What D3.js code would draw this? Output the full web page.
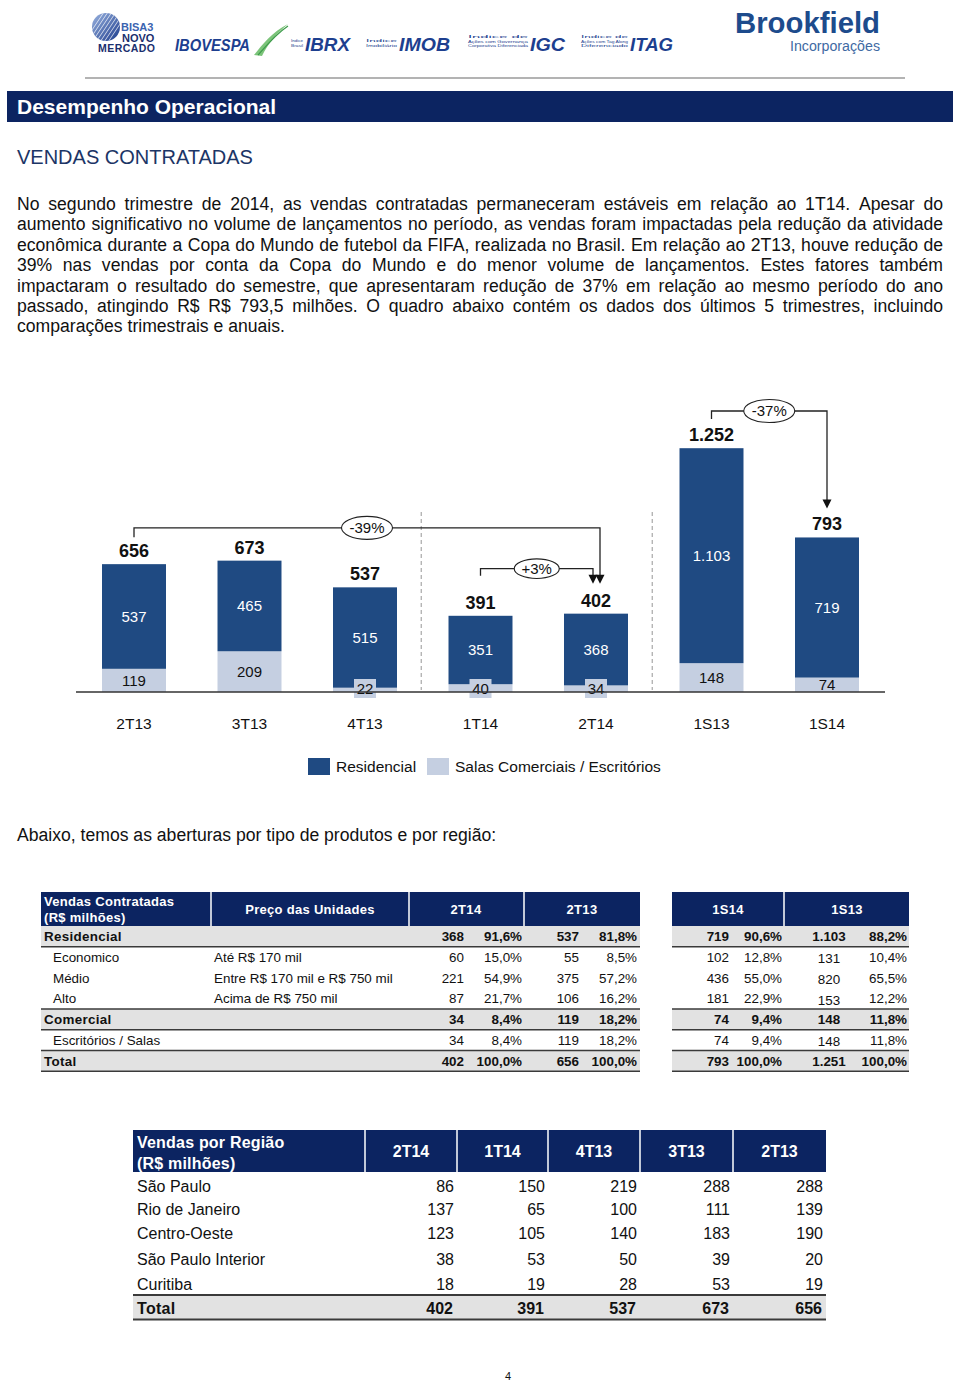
<!DOCTYPE html>
<html><head><meta charset="utf-8">
<script src="https://cdn.jsdelivr.net/npm/d3@7"></script>
<style>
body{margin:0;background:#fff;}
svg{display:block;font-family:"Liberation Sans",Arial,Helvetica,sans-serif;}
</style>
</head><body>
<svg id="page" width="960" height="1381"></svg>
<script>
// ---------------- DATA ----------------
const categories = ["2T13","3T13","4T13","1T14","2T14","1S13","1S14"];
const residencial = [537,465,515,351,368,1103,719];
const comercial   = [119,209,22,40,34,148,74];
const totals      = [656,673,537,391,402,1252,793];
const seriesNames = ["Residencial","Salas Comerciais / Escritórios"];
const annotations = [
  {from:"2T13", to:"2T14", label:"-39%"},
  {from:"1T14", to:"2T14", label:"+3%"},
  {from:"1S13", to:"1S14", label:"-37%"}
];

const paragraphLines = [
  "No segundo trimestre de 2014, as vendas contratadas permaneceram estáveis em relação ao 1T14. Apesar do",
  "aumento significativo no volume de lançamentos no período, as vendas foram impactadas pela redução da atividade",
  "econômica durante a Copa do Mundo de futebol da FIFA, realizada no Brasil. Em relação ao 2T13, houve redução de",
  "39% nas vendas por conta da Copa do Mundo e do menor volume de lançamentos. Estes fatores também",
  "impactaram o resultado do semestre, que apresentaram redução de 37% em relação ao mesmo período do ano",
  "passado, atingindo R$ R$ 793,5 milhões. O quadro abaixo contém os dados dos últimos 5 trimestres, incluindo",
  "comparações trimestrais e anuais."
];

// Table 1
const t1Header = ["Preço das Unidades","2T14","2T13","1S14","1S13"];
const t1Rows   = ["Residencial","Economico","Médio","Alto","Comercial","Escritórios / Salas","Total"];
const t1Level  = [0,1,1,1,0,1,0];
const t1Price  = ["","Até R$ 170 mil","Entre R$ 170 mil e R$ 750 mil","Acima de R$ 750 mil","","",""];
const v2T14 = [368,60,221,87,34,34,402];
const p2T14 = [91.6,15.0,54.9,21.7,8.4,8.4,100.0];
const v2T13 = [537,55,375,106,119,119,656];
const p2T13 = [81.8,8.5,57.2,16.2,18.2,18.2,100.0];
const v1S14 = [719,102,436,181,74,74,793];
const p1S14 = [90.6,12.8,55.0,22.9,9.4,9.4,100.0];
const v1S13 = [1103,131,820,153,148,148,1251];
const p1S13 = [88.2,10.4,65.5,12.2,11.8,11.8,100.0];

// Table 2
const regions  = ["São Paulo","Rio de Janeiro","Centro-Oeste","São Paulo Interior","Curitiba"];
const periods  = ["2T14","1T14","4T13","3T13","2T13"];
const reg2T14 = [86,137,123,38,18];
const reg1T14 = [150,65,105,53,19];
const reg4T13 = [219,100,140,50,28];
const reg3T13 = [288,111,183,39,53];
const reg2T13 = [288,139,190,20,19];
const regTotals = [402,391,537,673,656];

// ---------------- HELPERS ----------------
const loc = d3.formatLocale({decimal:",", thousands:".", grouping:[3], currency:["R$ ",""]});
const fInt = loc.format(",d");
const fPct = v => loc.format(",.1f")(v) + "%";

const NAVY = "#0c2461";
const DARK = "#1f4a82";
const LIGHT = "#c5cfe1";
const svg = d3.select("#page");

// ---------------- HEADER / LOGOS ----------------
const hdr = svg.append("g");
const defs = svg.append("defs");
const lg = defs.append("linearGradient").attr("id","globe").attr("x1","0").attr("y1","0").attr("x2","1").attr("y2","1");
lg.append("stop").attr("offset","0").attr("stop-color","#9bb4e0");
lg.append("stop").attr("offset","1").attr("stop-color","#1d3c8c");
defs.append("clipPath").attr("id","gclip").append("circle").attr("cx",106).attr("cy",27).attr("r",14);
hdr.append("circle").attr("cx",106).attr("cy",27).attr("r",14).attr("fill","url(#globe)");
for (let k=-3;k<=3;k++){
  hdr.append("line").attr("x1",96+k*4).attr("y1",42).attr("x2",116+k*4).attr("y2",12)
    .attr("stroke","#fff").attr("stroke-width",0.9).attr("opacity",0.8)
    .attr("clip-path","url(#gclip)");
}
hdr.append("text").attr("x",121).attr("y",31).attr("font-size",11).attr("font-weight","bold").attr("fill","#3a63b0").text("BISA3");
hdr.append("text").attr("x",122).attr("y",42).attr("font-size",11).attr("font-weight","bold").attr("fill","#1a2f6e").text("NOVO");
hdr.append("text").attr("x",98).attr("y",52).attr("font-size",10.5).attr("font-weight","bold").attr("fill","#1a2f6e").attr("textLength",57).text("MERCADO");

const logoBlue = "#1d3f8f";
hdr.append("text").attr("x",175).attr("y",51).attr("font-size",17).attr("font-weight","bold").attr("font-style","italic")
  .attr("fill",logoBlue).attr("textLength",75).attr("lengthAdjust","spacingAndGlyphs").text("IBOVESPA");
hdr.append("path").attr("d","M254,55 C262,45 272,32 288,24 C276,34 268,44 262,56 Z").attr("fill","#7cc47a");
hdr.append("path").attr("d","M258,55 C266,46 276,34 288,26").attr("stroke","#3d9b4a").attr("fill","none").attr("stroke-width",1.2);

function smallIdx(x, y, lines, w){
  lines.forEach((t,i)=>hdr.append("text").attr("x",x).attr("y",y+i*4.5).attr("font-size",4.2).attr("fill",logoBlue)
    .attr("textLength",w).attr("lengthAdjust","spacingAndGlyphs").text(t));
}
function bigIdx(x, t, w){
  hdr.append("text").attr("x",x).attr("y",51).attr("font-size",18).attr("font-weight","bold").attr("font-style","italic")
    .attr("fill",logoBlue).attr("textLength",w).attr("lengthAdjust","spacingAndGlyphs").text(t);
}
smallIdx(291,42,["Índice","Brasil"],12); bigIdx(305,"IBRX",45);
smallIdx(366,42,["Índice","Imobiliário"],31); bigIdx(399,"IMOB",51);
smallIdx(468,38,["Índice de","Ações com Governança","Corporativa Diferenciada"],60); bigIdx(530,"IGC",35);
smallIdx(581,38,["Índice de","Ações com Tag Along","Diferenciado"],47); bigIdx(630,"ITAG",43);

hdr.append("text").attr("x",735).attr("y",33).attr("font-size",29).attr("font-weight","bold").attr("fill","#1d4b8c")
  .attr("textLength",145).attr("lengthAdjust","spacingAndGlyphs").text("Brookfield");
hdr.append("text").attr("x",790).attr("y",51).attr("font-size",14).attr("fill","#3f6aa3")
  .attr("textLength",90).attr("lengthAdjust","spacingAndGlyphs").text("Incorporações");
hdr.append("line").attr("x1",85).attr("x2",905).attr("y1",78).attr("y2",78).attr("stroke","#9a9a9a").attr("stroke-width",1.5);

// title bar
svg.append("rect").attr("x",7).attr("y",91).attr("width",946).attr("height",31).attr("fill",NAVY);
svg.append("text").attr("x",17).attr("y",114).attr("font-size",21).attr("font-weight","bold").attr("fill","#fff").text("Desempenho Operacional");
svg.append("text").attr("x",17).attr("y",164).attr("font-size",20).attr("fill","#1c3566").text("VENDAS CONTRATADAS");

// ---------------- PARAGRAPH (justified) ----------------
const PFS = 17.6;
const para = svg.append("g").attr("font-size",PFS).attr("fill","#111");
const pX0 = 17, pX1 = 943, pY0 = 210, pLH = 20.4;
paragraphLines.forEach((line,li)=>{
  const words = line.split(" ");
  const t = para.append("text").attr("y", pY0 + li*pLH);
  const spans = words.map(w=>t.append("tspan").text(w));
  const widths = spans.map(s=>s.node().getComputedTextLength());
  const last = li === paragraphLines.length-1;
  const gap = last ? PFS*0.278 : (pX1-pX0-d3.sum(widths))/(words.length-1);
  let cx = pX0;
  spans.forEach((s,i)=>{ s.attr("x",cx); cx += widths[i]+gap; });
});

// ---------------- CHART ----------------
const x = d3.scaleBand().domain(categories).range([76.25,884.75]).paddingInner(0.446).paddingOuter(0.223);
const y = d3.scaleLinear().domain([0,1252]).range([692,448]);
const bw = x.bandwidth();
const xc = c => x(c) + bw/2;
const stackData = categories.map((c,i)=>({cat:c, Comercial:comercial[i], Residencial:residencial[i]}));
const stacked = d3.stack().keys(["Comercial","Residencial"])(stackData);
const colors = {Residencial:DARK, Comercial:LIGHT};
const chart = svg.append("g");

// dashed separators
[["4T13","1T14"],["2T14","1S13"]].forEach(([a,b])=>{
  const sx = (x(a)+bw + x(b))/2 - 1.5;
  chart.append("line").attr("x1",sx).attr("x2",sx).attr("y1",512).attr("y2",690)
    .attr("stroke","#a8a8a8").attr("stroke-width",1.2).attr("stroke-dasharray","4,3");
});

stacked.forEach(layer=>{
  chart.append("g").selectAll("rect").data(layer).join("rect")
    .attr("x",d=>x(d.data.cat)).attr("width",bw)
    .attr("y",d=>y(d[1])).attr("height",d=>y(d[0])-y(d[1]))
    .attr("fill",colors[layer.key]);
});

// residential labels
chart.append("g").selectAll("text").data(stacked[1]).join("text")
  .attr("x",d=>xc(d.data.cat)).attr("y",d=>(y(d[0])+y(d[1]))/2).attr("dy","0.36em")
  .attr("text-anchor","middle").attr("font-size",15).attr("fill","#fff")
  .text(d=>fInt(d.data.Residencial));

// commercial labels
const comG = chart.append("g");
stacked[0].forEach(d=>{
  const h = y(d[0]) - y(d[1]);
  const cx = xc(d.data.cat);
  if (h < 12) {
    const cy = y(0) - 3;
    comG.append("rect").attr("x",cx-11).attr("y",cy-10).attr("width",22).attr("height",19).attr("fill",LIGHT);
    comG.append("text").attr("x",cx).attr("y",cy).attr("dy","0.36em").attr("text-anchor","middle")
      .attr("font-size",15).attr("fill","#111").text(fInt(d.data.Comercial));
  } else {
    comG.append("text").attr("x",cx).attr("y",(y(d[0])+y(d[1]))/2).attr("dy","0.36em").attr("text-anchor","middle")
      .attr("font-size",15).attr("fill","#111").text(fInt(d.data.Comercial));
  }
});

// baseline
chart.append("line").attr("x1",76).attr("x2",885).attr("y1",y(0)).attr("y2",y(0)).attr("stroke","#333").attr("stroke-width",1.3);

// totals
chart.append("g").selectAll("text").data(categories).join("text")
  .attr("x",c=>xc(c)).attr("y",(c,i)=>y(totals[i])-7)
  .attr("text-anchor","middle").attr("font-size",18).attr("font-weight","bold").attr("fill","#111")
  .text((c,i)=>fInt(totals[i]));

// category axis labels
chart.append("g").selectAll("text").data(categories).join("text")
  .attr("x",c=>xc(c)).attr("y",729).attr("text-anchor","middle").attr("font-size",15.5).attr("fill","#111")
  .text(c=>c);

// annotations (layout offsets in px relative to scale)
const annLayout = [
  {lineOff:33, lineRef:"max", startOff:27, tipOff:30, dx:4},
  {lineOff:45, lineRef:"to",  startOff:40, tipOff:30, dx:-3},
  {lineOff:37, lineRef:"max", startOff:29, tipOff:29, dx:0}
];
const tot = c => totals[categories.indexOf(c)];
annotations.forEach((a,i)=>{
  const L = annLayout[i];
  const i0 = categories.indexOf(a.from), i1 = categories.indexOf(a.to);
  const maxV = L.lineRef === "max" ? d3.max(totals.slice(i0,i1+1)) : tot(a.to);
  const ly = y(maxV) - L.lineOff;
  const sx = xc(a.from), sy = y(tot(a.from)) - L.startOff;
  const ex = xc(a.to) + L.dx, tipY = y(tot(a.to)) - L.tipOff;
  chart.append("path").attr("d",`M${sx},${sy}V${ly}H${ex}V${tipY-8}`)
    .attr("fill","none").attr("stroke","#222").attr("stroke-width",1.3);
  chart.append("path").attr("d",`M${ex-4.5},${tipY-9}L${ex+4.5},${tipY-9}L${ex},${tipY}Z`).attr("fill","#111");
  const mx = (sx+ex)/2;
  const rx = a.label.length > 3 ? 25.5 : 22.5, ry = a.label.length > 3 ? 11.5 : 9.8;
  chart.append("ellipse").attr("cx",mx).attr("cy",ly).attr("rx",rx).attr("ry",ry)
    .attr("fill","#fff").attr("stroke","#222").attr("stroke-width",1.1);
  chart.append("text").attr("x",mx).attr("y",ly).attr("dy","0.36em").attr("text-anchor","middle")
    .attr("font-size",15).attr("fill","#111").text(a.label);
});

// legend
const leg = svg.append("g");
[[DARK,308,seriesNames[0],336],[LIGHT,427,seriesNames[1],455]].forEach(([col,rx,lab,tx])=>{
  leg.append("rect").attr("x",rx).attr("y",758).attr("width",22).attr("height",17).attr("fill",col);
  leg.append("text").attr("x",tx).attr("y",772).attr("font-size",15.5).attr("fill","#111").text(lab);
});

svg.append("text").attr("x",17).attr("y",841).attr("font-size",PFS).attr("fill","#111")
  .text("Abaixo, temos as aberturas por tipo de produtos e por região:");

// ---------------- TABLE 1 ----------------
const t1 = svg.append("g").attr("font-size",13.4).attr("fill","#111");
const blocks = [[41,640],[672,909]];
const hTop = 892, hBot = 926, rH = 20.75;
blocks.forEach(([a,b])=>t1.append("rect").attr("x",a).attr("y",hTop).attr("width",b-a).attr("height",hBot-hTop).attr("fill",NAVY));
[211,409,524,784].forEach(sx=>t1.append("line").attr("x1",sx).attr("x2",sx).attr("y1",hTop).attr("y2",hBot).attr("stroke","#fff").attr("stroke-width",1.5));
const hs = {fill:"#fff","font-weight":"bold","font-size":13,"letter-spacing":0.3};
function applyS(sel,s){Object.entries(s).forEach(([k,v])=>sel.attr(k,v));return sel;}
applyS(t1.append("text").attr("x",44).attr("y",906).text("Vendas Contratadas"),hs);
applyS(t1.append("text").attr("x",44).attr("y",922).text("(R$ milhões)"),hs);
const hCenters = [310,466,582,728,847];
t1Header.forEach((h,i)=>applyS(t1.append("text").attr("x",hCenters[i]).attr("y",914).attr("text-anchor","middle").text(h),hs));

t1Rows.forEach((r,i)=>{
  const top = hBot + i*rH, bot = top + rH;
  const lvl0 = t1Level[i] === 0;
  if (lvl0) {
    blocks.forEach(([a,b])=>{
      t1.append("rect").attr("x",a).attr("y",top).attr("width",b-a).attr("height",rH).attr("fill","#e2e2e2");
      if (i>0) t1.append("line").attr("x1",a).attr("x2",b).attr("y1",top).attr("y2",top).attr("stroke","#3a3a3a").attr("stroke-width",1.6);
      t1.append("line").attr("x1",a).attr("x2",b).attr("y1",bot).attr("y2",bot).attr("stroke","#3a3a3a").attr("stroke-width",1.6);
    });
  }
  const by = top + 15;
  const fw = lvl0 ? "bold" : "normal";
  t1.append("text").attr("x",lvl0?44:53).attr("y",by).attr("font-weight",fw).attr("letter-spacing",lvl0?0.3:0).text(r);
  if (t1Price[i]) t1.append("text").attr("x",214).attr("y",by).text(t1Price[i]);
  const cols = [
    [fInt(v2T14[i]),464,"end"],[fPct(p2T14[i]),522,"end"],
    [fInt(v2T13[i]),579,"end"],[fPct(p2T13[i]),637,"end"],
    [fInt(v1S14[i]),729,"end"],[fPct(p1S14[i]),782,"end"],
    [fInt(v1S13[i]),829,"middle"],[fPct(p1S13[i]),907,"end"]
  ];
  cols.forEach(([t,cx,anc],k)=>{
    const dy = (k===6 && !lvl0) ? 1.5 : 0;
    t1.append("text").attr("x",cx).attr("y",by+dy).attr("text-anchor",anc).attr("font-weight",fw).text(t);
  });
});

// ---------------- TABLE 2 ----------------
const t2 = svg.append("g").attr("font-size",16).attr("fill","#111");
const t2L = 133, t2R = 826, t2Top = 1130, t2HBot = 1172;
const colEdges = [365,457,548,640,733,826];
t2.append("rect").attr("x",t2L).attr("y",t2Top).attr("width",t2R-t2L).attr("height",t2HBot-t2Top).attr("fill",NAVY);
colEdges.slice(0,5).forEach(sx=>t2.append("line").attr("x1",sx).attr("x2",sx).attr("y1",t2Top).attr("y2",t2HBot).attr("stroke","#fff").attr("stroke-width",1.5));
t2.append("text").attr("x",137).attr("y",1148).attr("fill","#fff").attr("font-weight","bold").attr("letter-spacing",0.2).text("Vendas por Região");
t2.append("text").attr("x",137).attr("y",1169).attr("fill","#fff").attr("font-weight","bold").attr("letter-spacing",0.2).text("(R$ milhões)");
periods.forEach((p,k)=>t2.append("text").attr("x",(colEdges[k]+colEdges[k+1])/2).attr("y",1157).attr("text-anchor","middle")
  .attr("fill","#fff").attr("font-weight","bold").text(p));
const regCols = [reg2T14,reg1T14,reg4T13,reg3T13,reg2T13];
const rowY = [1192,1215,1239,1265,1290];
regions.forEach((r,i)=>{
  t2.append("text").attr("x",137).attr("y",rowY[i]).text(r);
  regCols.forEach((col,k)=>t2.append("text").attr("x",colEdges[k+1]-3).attr("y",rowY[i])
    .attr("text-anchor","end").text(fInt(col[i])));
});
t2.append("rect").attr("x",t2L).attr("y",1295).attr("width",t2R-t2L).attr("height",24).attr("fill","#e2e2e2");
t2.append("line").attr("x1",t2L).attr("x2",t2R).attr("y1",1295).attr("y2",1295).attr("stroke","#3a3a3a").attr("stroke-width",1.8);
t2.append("line").attr("x1",t2L).attr("x2",t2R).attr("y1",1319.5).attr("y2",1319.5).attr("stroke","#3a3a3a").attr("stroke-width",1.8);
t2.append("text").attr("x",137).attr("y",1314).attr("font-weight","bold").attr("letter-spacing",0.3).text("Total");
regTotals.forEach((v,k)=>t2.append("text").attr("x",colEdges[k+1]-4).attr("y",1314).attr("text-anchor","end")
  .attr("font-weight","bold").text(fInt(v)));

// page number
svg.append("text").attr("x",508).attr("y",1380).attr("font-size",11).attr("text-anchor","middle").attr("fill","#111").text("4");
</script>
</body></html>
